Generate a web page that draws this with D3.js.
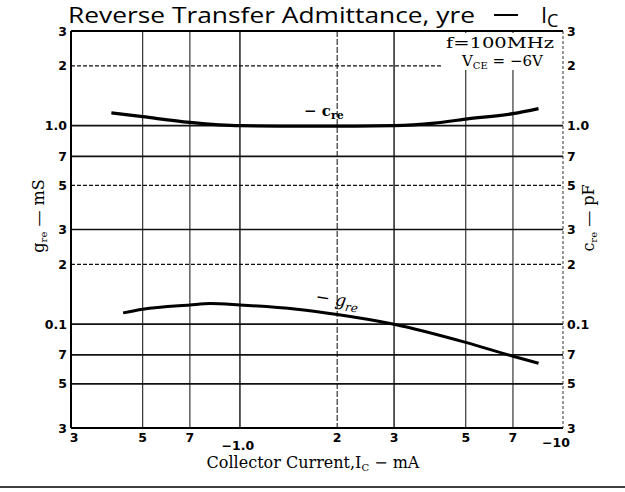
<!DOCTYPE html>
<html><head><meta charset="utf-8">
<script src="https://cdnjs.cloudflare.com/ajax/libs/d3/7.8.5/d3.min.js"></script>
<style>body{margin:0;background:#fff}svg{display:block}</style>
</head><body>
<script>
// ---- data ----
const xTickValues = [0.3, 0.5, 0.7, 1, 2, 3, 5, 7, 10];
const xTickLabels = ["3", "5", "7", "−1.0", "2", "3", "5", "7", "−10"];
const yTickValues = [3, 2, 1, 0.7, 0.5, 0.3, 0.2, 0.1, 0.07, 0.05, 0.03];
const yTickLabels = ["3", "2", "1.0", "7", "5", "3", "2", "0.1", "7", "5", "3"];
const creX = [0.4, 0.5, 0.7, 1.0, 1.5, 2, 3, 4, 5, 7, 8.4];
const creY = [1.16, 1.11, 1.04, 1.0, 0.995, 0.995, 1.0, 1.03, 1.08, 1.15, 1.22];
const greX = [0.435, 0.5, 0.7, 0.81, 1.0, 1.5, 2, 3, 5, 7, 8.4];
const greY = [0.114, 0.119, 0.125, 0.127, 0.125, 0.119, 0.112, 0.100, 0.081, 0.069, 0.0636];

const W = 625, H = 492;
const L = 71, R = 563, T = 31, B = 428;
const svg = d3.select("body").append("svg").attr("width", W).attr("height", H);
svg.append("rect").attr("width", W).attr("height", H).attr("fill", "#fff");

const x = d3.scaleLog().domain([0.3, 10]).range([L, R]);
const y = d3.scaleLog().domain([0.03, 3]).range([B, T]);

const sans = "'DejaVu Sans', sans-serif";
const serif = "'DejaVu Serif', 'Liberation Serif', serif";

// vertical grid
const dashedX = new Set([2]);
svg.append("g").selectAll("line").data(xTickValues.slice(1, -1)).join("line")
  .attr("x1", d => x(d)).attr("x2", d => x(d))
  .attr("y1", T).attr("y2", B)
  .attr("stroke", "#222").attr("stroke-width", d => (d === 1 || d === 3) ? 1.5 : 1.1)
  .attr("stroke-dasharray", d => dashedX.has(d) ? "6,2" : null);

// horizontal grid
const dashedY = new Set([2, 0.5, 0.2]);
svg.append("g").selectAll("line").data(yTickValues.slice(1, -1)).join("line")
  .attr("x1", L).attr("x2", R)
  .attr("y1", d => y(d)).attr("y2", d => y(d))
  .attr("stroke", "#111").attr("stroke-width", d => dashedY.has(d) ? 1.2 : 1.7)
  .attr("stroke-dasharray", d => dashedY.has(d) ? "4,2" : null);

// frame
svg.append("line").attr("x1", L).attr("x2", R).attr("y1", T).attr("y2", T).attr("stroke", "#000").attr("stroke-width", 2);
svg.append("line").attr("x1", L).attr("x2", R).attr("y1", B).attr("y2", B).attr("stroke", "#000").attr("stroke-width", 2);
svg.append("line").attr("x1", L).attr("x2", L).attr("y1", T).attr("y2", B).attr("stroke", "#000").attr("stroke-width", 2);
svg.append("line").attr("x1", R).attr("x2", R).attr("y1", T).attr("y2", B).attr("stroke", "#333").attr("stroke-width", 1).attr("stroke-dasharray", "3,2");

// annotation box
svg.append("rect").attr("x", 442).attr("y", T + 2).attr("width", R - 443).attr("height", 37).attr("fill", "#fff");
svg.append("text").attr("x", 446).attr("y", 48).attr("font-family", serif).attr("font-size", 15)
  .attr("textLength", 108).attr("lengthAdjust", "spacingAndGlyphs").text("f=100MHz");
const vce = svg.append("text").attr("x", 462).attr("y", 66).attr("font-family", serif).attr("font-size", 15);
vce.append("tspan").text("V");
vce.append("tspan").attr("font-size", 10).attr("dy", 3).text("CE");
vce.append("tspan").attr("dy", -3).text(" = −6V");

// curves
const line = d3.line().x(d => x(d[0])).y(d => y(d[1])).curve(d3.curveMonotoneX);
svg.append("path").datum(d3.zip(creX, creY)).attr("d", line)
  .attr("fill", "none").attr("stroke", "#000").attr("stroke-width", 3.2);
svg.append("path").datum(d3.zip(greX, greY)).attr("d", line)
  .attr("fill", "none").attr("stroke", "#000").attr("stroke-width", 3);

// curve labels
const cl = svg.append("text").attr("x", 304).attr("y", 116).attr("font-family", serif).attr("font-size", 15).attr("font-weight", "bold");
cl.append("tspan").text("− c");
cl.append("tspan").attr("font-size", 11).attr("dy", 3).text("re");
const gl = svg.append("text").attr("transform", "translate(315,302) rotate(9)").attr("font-family", serif).attr("font-size", 17).attr("font-style", "italic");
gl.append("tspan").text("− g");
gl.append("tspan").attr("font-size", 12).attr("dy", 4).text("re");

// left tick labels
svg.append("g").selectAll("text").data(yTickValues).join("text")
  .attr("x", L - 4).attr("y", d => y(d)).attr("dy", "0.36em")
  .attr("text-anchor", "end").attr("font-family", sans).attr("font-weight", "bold").attr("font-size", 12.5)
  .text((d, i) => yTickLabels[i]);
// right tick labels
svg.append("g").selectAll("text").data(yTickValues).join("text")
  .attr("x", R + 4).attr("y", d => y(d)).attr("dy", "0.36em")
  .attr("text-anchor", "start").attr("font-family", sans).attr("font-weight", "bold").attr("font-size", 12.5)
  .text((d, i) => yTickLabels[i]);
// bottom tick labels
svg.append("g").selectAll("text").data(xTickValues).join("text")
  .attr("x", (d, i) => x(d) + (i === 0 ? 3 : xTickLabels[i] === "−1.0" ? -2 : xTickLabels[i] === "−10" ? -7 : 0))
  .attr("y", (d, i) => xTickLabels[i] === "−1.0" ? 450 : xTickLabels[i] === "−10" ? 447 : 442)
  .attr("text-anchor", "middle").attr("font-family", sans).attr("font-weight", "bold").attr("font-size", 12.5)
  .text((d, i) => xTickLabels[i]);

// title
svg.append("text").attr("x", 68).attr("y", 23).attr("font-family", "'Open Sans', sans-serif").attr("font-size", 22)
  .attr("textLength", 407).attr("lengthAdjust", "spacingAndGlyphs").text("Reverse Transfer Admittance, yre");
svg.append("line").attr("x1", 494).attr("x2", 518).attr("y1", 15).attr("y2", 15).attr("stroke", "#000").attr("stroke-width", 2);
svg.append("text").attr("x", 541).attr("y", 23).attr("font-family", "'Open Sans', sans-serif").attr("font-size", 22).text("I");
svg.append("text").attr("x", 547).attr("y", 27).attr("font-family", "'Open Sans', sans-serif").attr("font-size", 18).text("C");

// axis titles
const xt = svg.append("text").attr("x", 313).attr("y", 468).attr("text-anchor", "middle")
  .attr("font-family", serif).attr("font-size", 16);
xt.append("tspan").text("Collector Current,I");
xt.append("tspan").attr("font-size", 10).attr("dy", 3).text("C");
xt.append("tspan").attr("dy", -3).text(" − mA");

const yl = svg.append("text").attr("transform", "translate(44,216) rotate(-90)").attr("text-anchor", "middle")
  .attr("font-family", serif).attr("font-size", 16);
yl.append("tspan").text("g");
yl.append("tspan").attr("font-size", 10).attr("dy", 3).text("re");
yl.append("tspan").attr("dy", -3).text("  —  mS");

const yr = svg.append("text").attr("transform", "translate(594,218) rotate(-90)").attr("text-anchor", "middle")
  .attr("font-family", serif).attr("font-size", 16);
yr.append("tspan").text("c");
yr.append("tspan").attr("font-size", 10).attr("dy", 3).text("re");
yr.append("tspan").attr("dy", -3).text("  —  pF");

// bottom separator
svg.append("line").attr("x1", 0).attr("x2", W).attr("y1", 487).attr("y2", 487).attr("stroke", "#000").attr("stroke-width", 1.5);
</script>
</body></html>
